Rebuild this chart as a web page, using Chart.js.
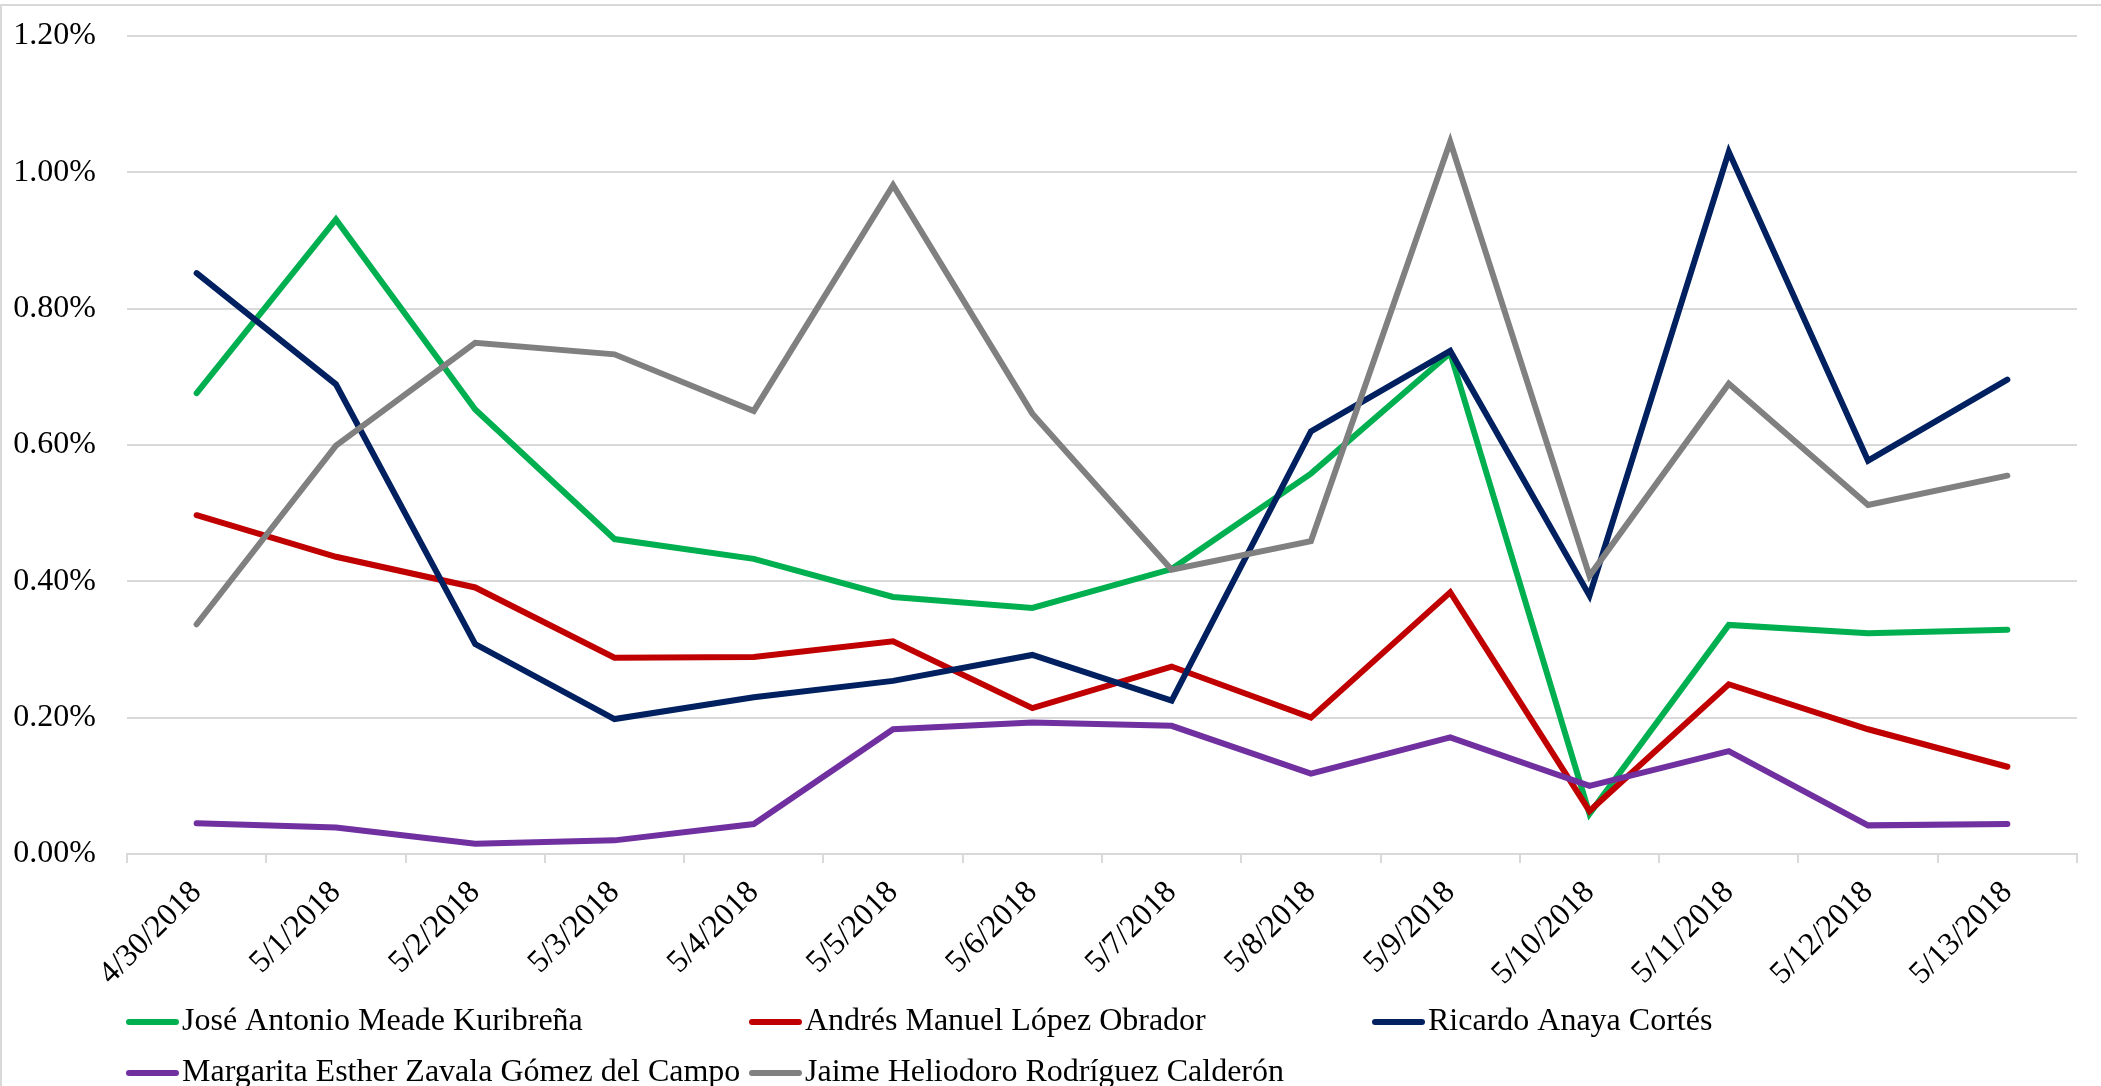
<!DOCTYPE html>
<html>
<head>
<meta charset="utf-8">
<script src="https://cdn.jsdelivr.net/npm/chart.js@4"></script>
<style>
  body { margin: 0; background: #fff; }
  canvas { display: block; }
</style>
</head>
<body>
<canvas id="lineChart" width="2101" height="1086"></canvas>
<script>
// daily share values, in percent

const dates = ['4/30/2018', '5/1/2018', '5/2/2018', '5/3/2018', '5/4/2018', '5/5/2018', '5/6/2018',
  '5/7/2018', '5/8/2018', '5/9/2018', '5/10/2018', '5/11/2018', '5/12/2018', '5/13/2018'];

const meade = [0.676, 0.931, 0.652, 0.462, 0.433, 0.377, 0.361, 0.418, 0.558, 0.735, 0.059, 0.336, 0.324, 0.329];
const amlo = [0.497, 0.436, 0.391, 0.288, 0.289, 0.312, 0.214, 0.275, 0.200, 0.384, 0.063, 0.249, 0.183, 0.128];
const anaya = [0.852, 0.689, 0.308, 0.198, 0.230, 0.254, 0.292, 0.225, 0.620, 0.738, 0.379, 1.030, 0.577, 0.696];
const zavala = [0.045, 0.039, 0.015, 0.020, 0.044, 0.183, 0.193, 0.188, 0.118, 0.171, 0.100, 0.151, 0.042, 0.044];
const bronco = [0.337, 0.599, 0.750, 0.733, 0.650, 0.981, 0.646, 0.417, 0.459, 1.045, 0.408, 0.690, 0.512, 0.555];

const names = ['José Antonio Meade Kuribreña', 'Andrés Manuel López Obrador', 'Ricardo Anaya Cortés',
  'Margarita Esther Zavala Gómez del Campo', 'Jaime Heliodoro Rodríguez Calderón'];
const colors = ['#00B050', '#C00000', '#002060', '#7030A0', '#808080'];

const yTicks = [0, 0.2, 0.4, 0.6, 0.8, 1.0, 1.2];

const font = '"Liberation Serif", "Times New Roman", serif';

// excel-like legend: fixed width columns under the plot
const columnLegend = {
  id: 'columnLegend',
  beforeDraw(chart) {
    const c = chart.ctx;
    c.save();
    c.strokeStyle = '#d9d9d9';
    c.lineWidth = 2;
    c.strokeRect(1, 5, 2110, 1100);
    c.restore();
  },
  afterDraw(chart) {
    const c = chart.ctx;
    const colW = 623, x0 = 126, rows = [1022, 1073];
    chart.data.datasets.forEach((ds, i) => {
      const x = x0 + (i % 3) * colW;
      const y = rows[Math.floor(i / 3)];
      c.save();
      c.strokeStyle = ds.borderColor;
      c.lineWidth = 6;
      c.lineCap = 'round';
      c.beginPath();
      c.moveTo(x + 3, y);
      c.lineTo(x + 50, y);
      c.stroke();
      c.fillStyle = '#000';
      c.font = '32px ' + font;
      c.textBaseline = 'middle';
      c.fillText(ds.label, x + 56, y);
      c.restore();
    });
  }
};

const series = [meade, amlo, anaya, zavala, bronco];

new Chart(document.getElementById('lineChart').getContext('2d'), {
  type: 'line',
  data: {
    labels: dates,
    datasets: series.map((vals, i) => ({
      label: names[i],
      data: vals,
      borderColor: colors[i],
      backgroundColor: colors[i],
      borderWidth: 6,
      borderCapStyle: 'round',
      borderJoinStyle: 'miter',
      pointRadius: 0,
      tension: 0,
      order: 5 - i
    }))
  },
  options: {
    responsive: false,
    animation: false,
    layout: { padding: { left: 0, right: 24, top: 36, bottom: 92 } },
    plugins: {
      legend: { display: false },
      tooltip: { enabled: false }
    },
    scales: {
      x: {
        offset: true,
        grid: { offset: true, drawOnChartArea: false, color: '#d9d9d9', lineWidth: 2, tickLength: 9 },
        border: { color: '#d9d9d9', width: 2 },
        ticks: {
          color: '#000',
          font: { family: font, size: 32 },
          minRotation: 45,
          maxRotation: 45,
          autoSkip: false,
          padding: 11
        },
        afterFit: s => { s.height = 140; }
      },
      y: {
        min: 0,
        max: 1.2,
        afterBuildTicks: s => { s.ticks = yTicks.map(v => ({ value: v })); },
        grid: { color: '#d9d9d9', lineWidth: 2, drawTicks: true, tickLength: 31, tickColor: 'rgba(0,0,0,0)' },
        border: { display: false },
        ticks: {
          color: '#000',
          font: { family: font, size: 32 },
          padding: 0,
          callback: v => v.toFixed(2) + '%'
        },
        afterFit: s => { s.width = 127; }
      }
    }
  },
  plugins: [columnLegend]
});
</script>
</body>
</html>
